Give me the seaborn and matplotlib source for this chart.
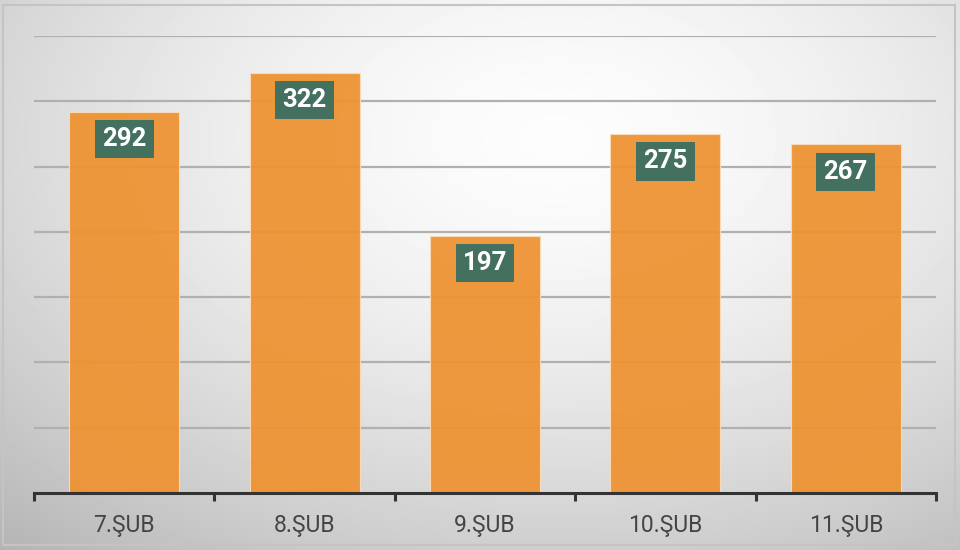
import numpy as np
import pandas as pd
import matplotlib
matplotlib.use("Agg")
import matplotlib.pyplot as plt
import seaborn as sns
from matplotlib.patches import Rectangle

# Data
days = ["7.ŞUB", "8.ŞUB", "9.ŞUB", "10.ŞUB", "11.ŞUB"]
counts = [292, 322, 197, 275, 267]
gridlines = [50, 100, 150, 200, 250, 300, 350]

df = pd.DataFrame({"day": days, "count": counts})

sns.set_style("white")
plt.rcParams["font.family"] = ["Roboto", "DejaVu Sans"]

fig = plt.figure(figsize=(9.6, 5.5), dpi=100)

# radial gray gradient background
bg = fig.add_axes([0, 0, 1, 1])
xx, yy = np.meshgrid(np.linspace(0, 1, 480), np.linspace(0, 1, 275))
r = np.sqrt(((xx - 0.58) / 0.75) ** 2 + ((yy - 0.25) / 0.85) ** 2)
shade = 0.99 - 0.22 * np.clip(r, 0, 1.2) ** 1.6
bg.imshow(shade, cmap="gray", vmin=0, vmax=1, extent=[0, 1, 1, 0], aspect="auto")
bg.add_patch(Rectangle((0.003, 0.009), 0.992, 0.982, transform=bg.transAxes,
                       fill=False, edgecolor="#c4c4c4", linewidth=1.5))
bg.set_xlim(0, 1)
bg.set_ylim(1, 0)
bg.axis("off")

ax = fig.add_axes([34 / 960, 57 / 550, 902 / 960, 457 / 550])
ax.patch.set_alpha(0)

for g in gridlines:
    ax.axhline(g, color="#b0b0b0", linewidth=1.6, zorder=0)

sns.barplot(data=df, x="day", y="count", color="#EE9333", width=0.61,
            saturation=1, alpha=0.94, edgecolor="#f7dcbc", linewidth=0.8,
            ax=ax, zorder=2)

for i, v in enumerate(counts):
    ax.text(i, v - 21, str(v), ha="center", va="center", fontsize=18.5,
            fontweight="bold", color="white", zorder=4,
            bbox=dict(boxstyle="square,pad=0.28", facecolor="#44705F",
                      edgecolor="none"))

ax.set_xlim(-0.5, 4.5)
ax.set_ylim(0, 350)
ax.set_yticks([])
ax.set_xlabel("")
ax.set_ylabel("")
for s in ["top", "right", "left"]:
    ax.spines[s].set_visible(False)
ax.spines["bottom"].set_color("#333333")
ax.spines["bottom"].set_linewidth(2.2)
ax.spines["bottom"].set_zorder(5)

ax.set_xticks(range(len(days)))
ax.set_xticklabels(days, fontsize=16.5, color="#444444")
ax.tick_params(axis="x", which="major", bottom=True, length=0, pad=15)
ax.set_xticks(np.arange(-0.5, 5, 1), minor=True)
ax.tick_params(axis="x", which="minor", bottom=True, length=6, width=2.2,
               color="#333333")

fig.savefig("out.png", dpi=100)
